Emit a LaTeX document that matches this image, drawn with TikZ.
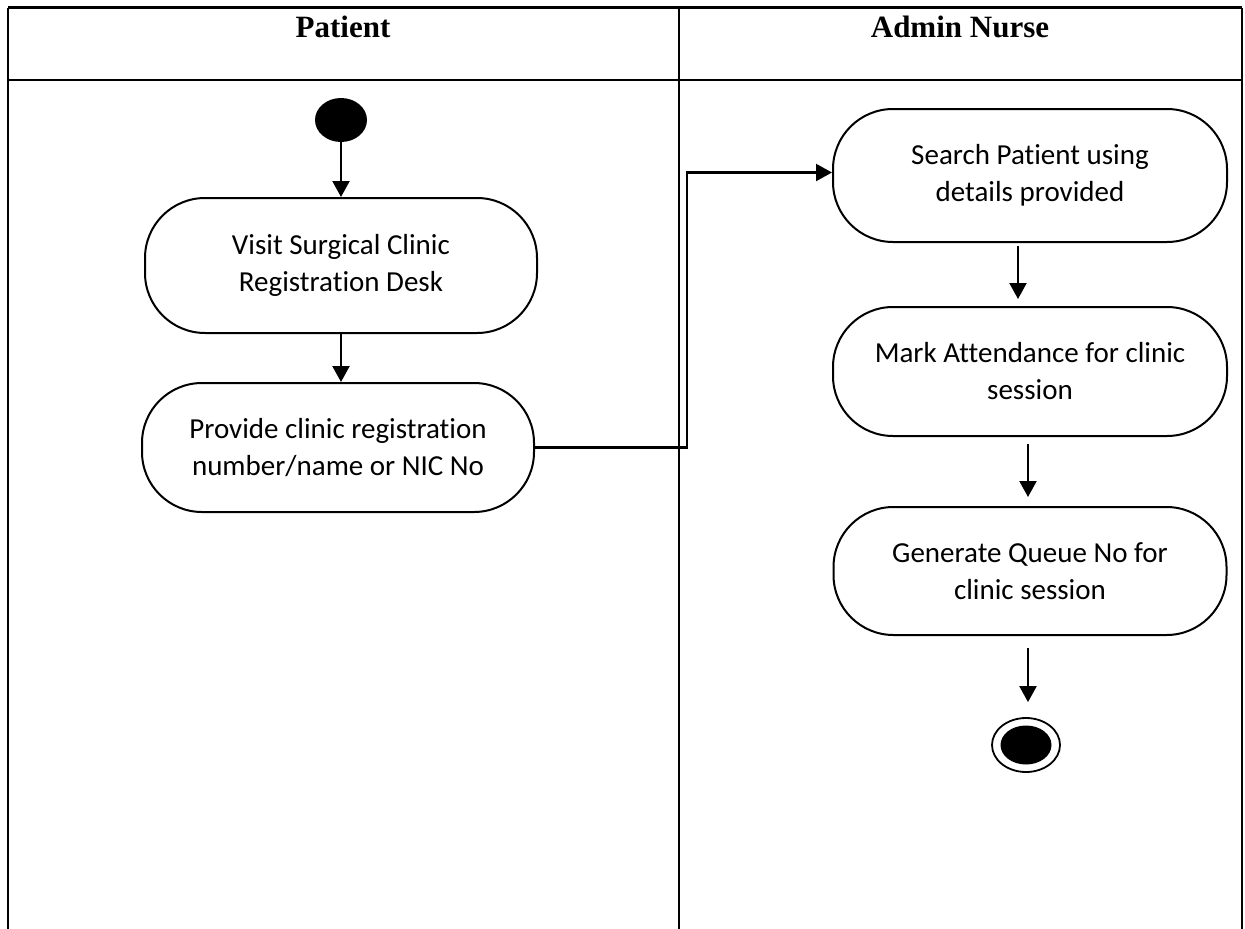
\documentclass[tikz,border=0pt]{standalone}
\usepackage{fontspec}
\setmainfont[Ligatures={NoCommon}]{Carlito}
\newfontfamily\headfont{Liberation Serif}
\usetikzlibrary{shapes.geometric,arrows.meta,calc}

\tikzset{
  lane/.style={line width=2.2pt},
  action/.style={draw, line width=2pt, rectangle, rounded corners=60pt,
    minimum width=#1, align=center,
    font=\fontsize{29}{37}\selectfont},
  flow/.style={line width=2.2pt, -{Triangle[length=16pt,width=17pt]}},
  lanetitle/.style={anchor=base, font=\headfont\bfseries\fontsize{31}{36}\selectfont},
}

\begin{document}
\begin{tikzpicture}[x=1pt,y=-1pt]
\useasboundingbox (0,0) rectangle (1245,929);

% swimlane frame
\draw[lane] (8,7.5) -- (1242,7.5);
\draw[lane] (8,80) -- (1242,80);
\draw[lane] (8,7.5) -- (8,929);
\draw[lane] (679,7.5) -- (679,929);
\draw[lane] (1242,7.5) -- (1242,929);

\node[lanetitle] (lanepatient) at (343,37) {Patient};
\node[lanetitle] (lanenurse) at (960,37) {Admin Nurse};

% patient lane
\node[ellipse, fill=black, minimum width=52pt, minimum height=44pt, inner sep=0pt] (start) at (341,120) {};
\node[action=392pt, minimum height=135pt] (visit) at (341,265.5) {Visit Surgical Clinic\\Registration Desk};
\node[action=392pt, minimum height=129pt] (provide) at (338,447.5) {Provide clinic registration\\number/name or NIC No};

% nurse lane
\node[action=394pt, minimum height=133pt] (search) at (1030,175.5) {Search Patient using\\details provided};
\node[action=394pt, minimum height=129pt] (mark) at (1030,371.5) {Mark Attendance for clinic\\session};
\node[action=393pt, minimum height=128pt] (generate) at (1030,571) {Generate Queue No for\\clinic session};

\node[ellipse, draw, line width=1.8pt, minimum width=68pt, minimum height=54pt, inner sep=0pt] (finish) at (1026,745) {};
\node[ellipse, fill=black, minimum width=51pt, minimum height=39pt, inner sep=0pt] (finishdot) at (finish.center) {};

% control flow
\coordinate (turn) at (687,0);
\draw[flow] (start.south) -- (start.south |- visit.north);
\draw[flow] (visit.south) -- (visit.south |- provide.north);
\draw[flow] (provide.east) -| ($(turn |- search.west)+(0,-3)$) -- ($(search.west)+(0,-3)$);
\draw[flow, shorten <=3pt, shorten >=7pt] ([xshift=-12pt]search.south) -- ([xshift=-12pt]mark.north);
\draw[flow, shorten <=7pt, shorten >=9pt] ([xshift=-2pt]mark.south) -- ([xshift=-2pt]generate.north);
\draw[flow, shorten <=12pt, shorten >=15pt] ([xshift=-2pt]generate.south) -- ([xshift=2pt]finish.north);
\end{tikzpicture}
\end{document}
